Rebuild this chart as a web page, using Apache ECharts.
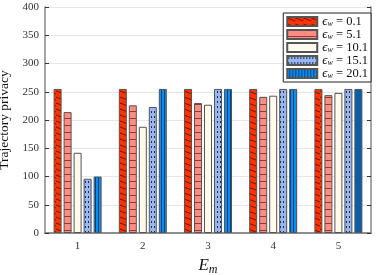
<!DOCTYPE html>
<html><head><meta charset="utf-8">
<script src="https://cdn.jsdelivr.net/npm/echarts@6/dist/echarts.min.js"></script>
<style>html,body{margin:0;padding:0;background:#fff}#c{width:379px;height:275px}</style>
</head><body><div id="c"></div>
<script>
const categories = ['1','2','3','4','5'];
const yTicks = [0,50,100,150,200,250,300,350,400];
const seriesNames = ['0.1','5.1','10.1','15.1','20.1'];
const s0_1  = [255,255,255,255,255];
const s5_1  = [214,226,230,241,244];
const s10_1 = [142,188,227,243,248];
const s15_1 = [96,223,255,255,255];
const s20_1 = [100,255,255,255,255];
const values = [s0_1,s5_1,s10_1,s15_1,s20_1];

function pat(w,h,bg,draw){
  const c=document.createElement('canvas');c.width=w;c.height=h;
  const g=c.getContext('2d');g.fillStyle=bg;g.fillRect(0,0,w,h);draw(g);
  return {image:c,repeat:'repeat'};
}
const fills = [
  pat(8,6,'#ff3300',g=>{g.strokeStyle='#5a1405';g.lineWidth=0.9;g.beginPath();g.moveTo(0,1);g.lineTo(8,4);g.stroke();}),
  pat(8,7,'#ff8c80',g=>{g.fillStyle='#8a3c36';g.fillRect(0,6,8,1);}),
  pat(4,4,'#fffaeb',g=>{}),
  pat(3,5,'#98b6ef',g=>{g.fillStyle='#222a44';g.fillRect(1,1,1,2);}),
  pat(3,4,'#0a8cf2',g=>{g.fillStyle='#07406e';g.fillRect(2,0,1,4);})
];
const serif = '"Liberation Serif","DejaVu Serif",serif';
const chart = echarts.init(document.getElementById('c'),null,{renderer:'canvas'});
const series = seriesNames.map((n,i)=>({
  name:n, type:'bar', xAxisIndex:0, yAxisIndex:0,
  barWidth:8, barGap:'25%',
  data: values[i].map((v,j)=> (i===4 && j===4) ? {value:v,itemStyle:{color:'#0b5fa8'}} : v),
  itemStyle:{color:fills[i], borderColor:'#555', borderWidth:1},
  emphasis:{disabled:true}
}));
chart.setOption({
  animation:false,
  grid:{left:45,right:8,top:7,bottom:42,containLabel:false,outerBoundsMode:'none'},
  legend:{
    orient:'vertical', right:8, top:13, itemWidth:30, itemHeight:9, itemGap:0, icon:'rect',
    backgroundColor:'#fff', borderColor:'#222', borderWidth:1, padding:[2,3,2,3], borderRadius:0,
    data:seriesNames,
    formatter: n => '{e|ϵ}{w|w}{t| = '+n+'}',
    textStyle:{ lineHeight:13, rich:{
      e:{fontFamily:serif,fontStyle:'italic',fontSize:13,color:'#111',lineHeight:13},
      w:{fontFamily:serif,fontStyle:'italic',fontSize:8,color:'#111',lineHeight:13,verticalAlign:'bottom'},
      t:{fontFamily:serif,fontSize:12.5,color:'#111',lineHeight:13}
    }}
  },
  xAxis:[
    {type:'category',data:categories,position:'bottom',
     name:'{a|E}{b|m}',nameLocation:'middle',nameGap:20,
     nameTextStyle:{rich:{
       a:{fontFamily:serif,fontStyle:'italic',fontSize:17,color:'#111'},
       b:{fontFamily:serif,fontStyle:'italic',fontSize:12,color:'#111',padding:[8,0,0,0]}}},
     axisLine:{lineStyle:{color:'#888',width:1.5}},
     axisTick:{inside:true,alignWithLabel:true,length:4,lineStyle:{color:'#333'}},
     axisLabel:{fontFamily:serif,fontSize:11,color:'#333',margin:8},
     splitLine:{show:false}},
    {type:'category',data:categories,position:'top',
     axisLine:{lineStyle:{color:'#888',width:1.5}},
     axisTick:{inside:true,alignWithLabel:true,length:4,lineStyle:{color:'#333'}},
     axisLabel:{show:false}}
  ],
  yAxis:[
    {type:'value',min:0,max:400,interval:50,position:'left',
     name:'Trajectory privacy',nameLocation:'middle',nameGap:26,
     nameTextStyle:{fontFamily:serif,fontSize:13.5,color:'#111'},
     axisLine:{show:true,lineStyle:{color:'#888',width:1.5}},
     axisTick:{show:true,inside:true,length:4,lineStyle:{color:'#333'}},
     axisLabel:{fontFamily:serif,fontSize:11,color:'#333',margin:6},
     splitLine:{show:true,lineStyle:{color:'#e6e6e6'}}},
    {type:'value',min:0,max:400,interval:50,position:'right',
     axisLine:{show:true,lineStyle:{color:'#888',width:1.5}},
     axisTick:{show:true,inside:true,length:4,lineStyle:{color:'#333'}},
     axisLabel:{show:false},splitLine:{show:false}}
  ],
  series: series
});
</script></body></html>
